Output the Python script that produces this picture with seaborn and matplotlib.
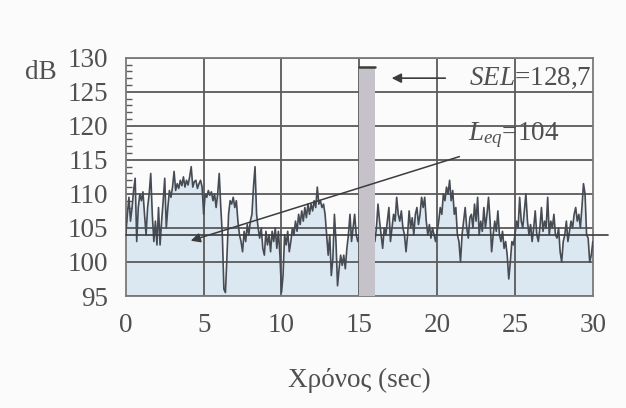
import numpy as np
import pandas as pd
import matplotlib
matplotlib.use("Agg")
import matplotlib.pyplot as plt
from matplotlib.ticker import MultipleLocator
import seaborn as sns

# Sound pressure level sampled every 0.1 s over 30 s (dB)
sample_step = 0.1
levels = [
    104, 107, 109.5, 106, 108, 110.5, 112.3, 103, 108, 110,
    109, 110.3, 107, 104, 108, 110, 113, 107, 103, 106,
    102.5, 108, 102.5, 106, 109, 112.3, 105, 108, 110.5, 109.5,
    111, 113.3, 110.5, 111.5, 110.8, 112, 111.2, 112.5, 111, 112,
    111.3, 112.5, 114, 111, 111.8, 112, 110.8, 111.5, 112, 111,
    107, 110, 109.5, 110.5, 109.8, 110.3, 109, 110, 108, 110,
    113, 108, 104, 96, 95.5, 101, 107, 109, 108.5, 109.5,
    108, 109, 106, 104, 103, 101.5, 104.5, 103, 105.5, 104,
    106, 107, 111, 114, 107, 105, 103.5, 105, 102, 101,
    104.5, 102.5, 104, 101.5, 104.5, 103, 105, 102, 104.5, 101,
    95.5, 98, 104, 102.5, 104.5, 101.5, 103, 105, 104, 106,
    104.5, 107, 105.5, 107.5, 106, 108, 106.5, 108.5, 107, 108.5,
    107.5, 109, 108, 111, 108.5, 109, 108, 108.5, 107, 104,
    101, 104, 98, 100.5, 107, 103, 96.5, 99, 101, 99.5,
    101, 99, 102, 104, 107, 103, 105, 107, 104, 103,
    104, 103, 105, 104, 103.5, 104, 105, 103, 104, 103.5,
    103, 105, 108.5, 106, 104, 102, 105, 104, 106, 108,
    103, 105, 107, 106, 109.5, 107, 106, 107.5, 105, 104,
    101.5, 104, 107.5, 105, 106.5, 104, 107, 108, 105.5, 107,
    109.5, 108, 109.5, 106, 104, 105.5, 103.5, 105, 104, 103,
    104.5, 106, 108, 107, 110, 109, 111, 110, 112, 109,
    110.5, 107, 108, 104, 103, 100, 104, 106, 108, 105,
    103.5, 106.5, 107, 105, 108.5, 106, 109.5, 104, 106, 104.5,
    108, 105, 107, 109.5, 106, 101.5, 104, 106, 104.5, 107.5,
    104, 103, 104.5, 102, 103, 101, 97.5, 100, 103, 102.5,
    104, 106, 105, 109.5, 106, 105, 107.5, 110, 106, 104,
    105.5, 103, 105, 107.5, 104, 103, 105, 108, 104.5, 106,
    105, 109.5, 104, 106, 105, 107, 104, 103.5, 105, 101.5,
    100, 103, 104, 106, 103, 104.5, 106, 105, 107, 108,
    106, 107, 105, 108, 111.5, 110, 104, 103.5, 100, 101,
    103,
]

leq_value = 104.0
sel_value = 128.7
event_start, event_end = 15.0, 16.0
y_floor = 95

time_s = np.arange(len(levels)) * sample_step
df = pd.DataFrame({"t": time_s, "dB": levels})

sns.set_theme(style="white")
plt.rcParams["font.family"] = ["Liberation Serif", "DejaVu Serif"]
plt.rcParams["mathtext.fontset"] = "custom"
plt.rcParams["mathtext.rm"] = "Liberation Serif"
plt.rcParams["mathtext.it"] = "Liberation Serif:italic"

text_col = "#505050"
grid_col = "#5a5a5a"
fs = 19.5

fig = plt.figure(figsize=(6.26, 4.08), dpi=100, facecolor="#fbfbfb")
ax = fig.add_axes([0.201, 0.2745, 0.746, 0.584])
ax.set_facecolor("#fbfbfb")

# shaded area under the level trace
ax.fill_between(df["t"], y_floor, df["dB"], color="#dbe8f1", lw=0, zorder=1)

# grid
for yv in range(95, 131, 5):
    ax.axhline(yv, color=grid_col, lw=1.3, zorder=2)
for xv in range(5, 30, 5):
    ax.axvline(xv, color=grid_col, lw=1.3, zorder=2)

sns.lineplot(data=df, x="t", y="dB", ax=ax, color="#464b54", lw=1.2, zorder=3)

# equivalent level
ax.plot([0, 31], [leq_value, leq_value], color="#3c3c3c", lw=1.2,
        clip_on=False, zorder=4)

# exposure bar for the 1-second event
ax.bar(event_start, sel_value - y_floor, bottom=y_floor,
       width=event_end - event_start, align="edge",
       color="#c6c2ca", edgecolor="none", zorder=5)
ax.plot([event_start, event_end], [sel_value, sel_value],
        color="#3c3c3c", lw=1.8, zorder=6)

ax.set_xlim(0, 30)
ax.set_ylim(95, 130)
ax.xaxis.set_major_locator(MultipleLocator(5))
ax.xaxis.set_minor_locator(MultipleLocator(1))
ax.yaxis.set_major_locator(MultipleLocator(5))
ax.yaxis.set_minor_locator(MultipleLocator(1))
ax.tick_params(axis="both", which="both", direction="in", colors=grid_col,
               labelcolor=text_col, labelsize=fs)
ax.tick_params(axis="both", which="major", length=0)
ax.tick_params(axis="both", which="minor", length=4, width=1)
ax.tick_params(axis="y", which="major", pad=13)
ax.tick_params(axis="x", which="major", pad=12)
ax.tick_params(axis="y", which="minor", left=True)
ax.tick_params(axis="x", which="minor", bottom=True)
for sp in ax.spines.values():
    sp.set_color("#7a7a7a")
    sp.set_linewidth(1.3)

ax.set_xlabel("Χρόνος (sec)", fontsize=fs, color=text_col, labelpad=22)
ax.set_ylabel("")
fig.text(0.066, 0.822, "dB", fontsize=fs, color=text_col,
         ha="center", va="center")

# annotations
ax.annotate("", xy=(16.9, 127.0), xytext=(20.7, 127.0),
            arrowprops=dict(arrowstyle="-|>", color="#3c3c3c", lw=1.2,
                            mutation_scale=14), zorder=7)
ax.text(29.9, 127.0, r"$SEL$=128,7", fontsize=fs, color=text_col,
        ha="right", va="center", zorder=7)

ax.annotate("", xy=(4.0, 103.0), xytext=(21.6, 115.6),
            arrowprops=dict(arrowstyle="-|>", color="#3c3c3c", lw=1.1,
                            mutation_scale=14), zorder=7)
ax.text(22.0, 118.6, r"$L_{eq}$=104", fontsize=fs, color=text_col,
        ha="left", va="center", zorder=7)

fig.savefig("out.png", dpi=100, facecolor=fig.get_facecolor())
